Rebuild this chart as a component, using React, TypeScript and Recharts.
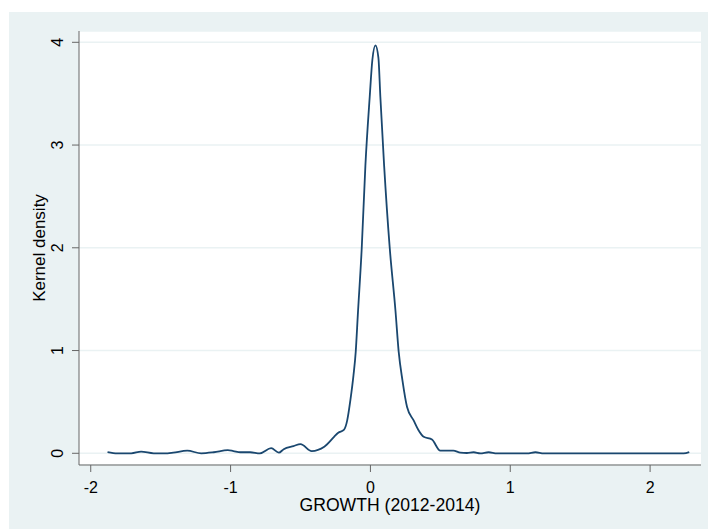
import React from 'react'
import { LineChart, Line, XAxis, YAxis, CartesianGrid, Label } from 'recharts'

// growth values (x) and kernel density estimates (y)
const growth = [
  -1.88, -1.81, -1.71, -1.64, -1.55, -1.45, -1.41, -1.31, -1.21, -1.12, -1.02,
  -0.98, -0.93, -0.86, -0.79, -0.71, -0.655, -0.62, -0.55, -0.5, -0.42, -0.33,
  -0.26, -0.23, -0.19, -0.166, -0.143, -0.121, -0.105, -0.09, -0.062, -0.036,
  -0.005, 0.014, 0.036, 0.057, 0.071, 0.098, 0.138, 0.179, 0.202, 0.229, 0.262,
  0.309, 0.343, 0.381, 0.44, 0.5, 0.593, 0.643, 0.69, 0.738, 0.786, 0.845,
  0.905, 1.12, 1.18, 1.24, 2.24, 2.28,
]
const density = [
  0.012, 0.0, 0.0, 0.016, 0.0, 0.0, 0.006, 0.025, 0.0, 0.01, 0.03, 0.022, 0.01,
  0.01, 0.0, 0.05, 0.006, 0.04, 0.07, 0.09, 0.022, 0.064, 0.16, 0.2, 0.227,
  0.32, 0.52, 0.76, 0.99, 1.35, 2.0, 2.8, 3.47, 3.83, 3.97, 3.85, 3.47, 2.8,
  2.0, 1.39, 0.99, 0.71, 0.45, 0.32, 0.227, 0.16, 0.134, 0.025, 0.025, 0.006,
  0.003, 0.01, 0.0, 0.01, 0.0, 0.0, 0.01, 0.0, 0.0, 0.012,
]
const xTicks = [-2, -1, 0, 1, 2]
const yTicks = [0, 1, 2, 3, 4]

const data = growth.map((x, i) => ({ x, y: density[i] }))

const axisColor = '#666'
const font = 'Liberation Sans, Arial, sans-serif'

const YTick = ({ y, payload }: any) => (
  <text
    x={54}
    y={y}
    transform={`rotate(-90, 54, ${y})`}
    textAnchor="middle"
    fontSize={16}
    fontFamily={font}
    fill="#000"
  >
    {payload.value}
  </text>
)

const XTick = ({ x, payload }: any) => (
  <text x={x} y={481} textAnchor="middle" fontSize={16} fontFamily={font} fill="#000">
    {payload.value}
  </text>
)

export default function App() {
  return (
    <div
      style={{
        position: 'absolute',
        left: 9,
        top: 12,
        width: 699,
        height: 517,
        background: '#EAF2F3',
      }}
    >
      <LineChart
        width={699}
        height={517}
        data={data}
        margin={{ top: 19, right: 7, left: 0, bottom: 0 }}
      >
        <CartesianGrid vertical={false} fill="#fff" stroke="#EAF2F3" strokeWidth={1.5} />
        <XAxis
          dataKey="x"
          type="number"
          domain={[-2.084, 2.364]}
          ticks={xTicks}
          height={64}
          stroke={axisColor}
          tickSize={7}
          tick={<XTick />}
        >
          <Label
            value="GROWTH (2012-2014)"
            position="insideBottom"
            offset={18}
            fontSize={17.6}
            fontFamily={font}
            fill="#000"
          />
        </XAxis>
        <YAxis
          type="number"
          domain={[-0.114, 4.11]}
          ticks={yTicks}
          width={70}
          stroke={axisColor}
          tickSize={7}
          tick={<YTick />}
        >
          <Label
            content={() => (
              <text
                x={36}
                y={236}
                transform="rotate(-90, 36, 236)"
                textAnchor="middle"
                fontSize={17}
                fontFamily={font}
                fill="#000"
              >
                Kernel density
              </text>
            )}
          />
        </YAxis>
        <Line
          type="monotone"
          dataKey="y"
          stroke="#1a476f"
          strokeWidth={1.8}
          dot={false}
          isAnimationActive={false}
        />
      </LineChart>
    </div>
  )
}
